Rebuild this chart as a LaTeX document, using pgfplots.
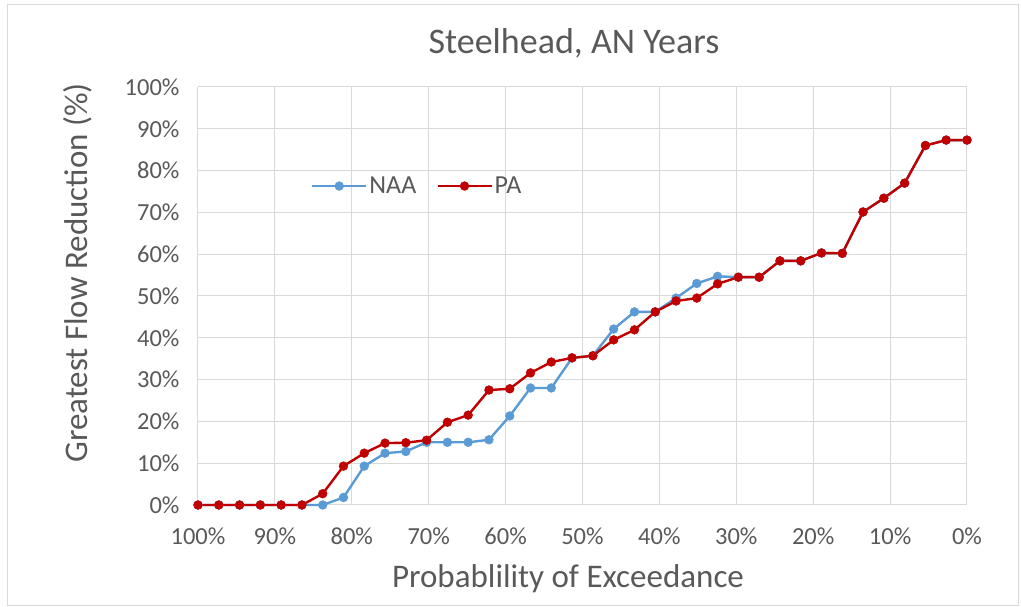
\documentclass[border=0pt]{standalone}
\usepackage{fontspec}
\setmainfont{Carlito}
\usepackage{pgfplots}
\pgfplotsset{compat=1.18}
\definecolor{naa}{HTML}{5B9BD5}
\definecolor{pa}{HTML}{C00000}
\definecolor{txt}{HTML}{595959}
\definecolor{grd}{HTML}{D9D9D9}
\begin{document}
\begin{tikzpicture}
\path[use as bounding box] (0,0) rectangle (1021pt,607pt);
\draw[grd, line width=1pt] (7pt,1pt) rectangle (1018pt,602pt);
\begin{axis}[
  at={(198pt,102pt)}, anchor=south west,
  scale only axis, width=769pt, height=418pt,
  xmin=0, xmax=100, ymin=0, ymax=100,
  x dir=reverse,
  xtick={0,10,...,100}, ytick={0,10,...,100},
  xticklabel={\pgfmathprintnumber{\tick}\%},
  yticklabel={\pgfmathprintnumber{\tick}\%},
  /pgf/number format/assume math mode=true,
  ticklabel style={font=\fontsize{24.5}{29}\selectfont, text=txt},
  xticklabel style={anchor=base, yshift=-40pt},
  yticklabel style={anchor=east, xshift=-15pt},
  major tick length=0pt,
  grid=major, major grid style={grd, line width=1pt},
  axis line style={draw=none},
  clip=false,
  legend style={at={(0.285,0.763)}, anchor=center, draw=none, fill=none,
    legend columns=2, font=\fontsize{26}{30}\selectfont, text=txt,
    /tikz/every even column/.append style={column sep=18pt}},
  legend image code/.code={\draw[mark repeat=2,mark phase=2,#1] plot coordinates {(0pt,0pt) (27pt,0pt) (54pt,0pt)};},
]
\addplot[naa, line width=2.4pt, mark=*, mark size=4.4pt, mark options={fill=naa, draw=naa, line width=0.5pt}] table {
x y
100 0
97.297 0
94.595 0
91.892 0
89.189 0
86.486 0
83.784 0
81.081 1.8
78.378 9.3
75.676 12.4
72.973 12.8
70.270 15.0
67.568 15.0
64.865 15.0
62.162 15.6
59.459 21.3
56.757 28.0
54.054 28.0
51.351 35.2
48.649 35.7
45.946 42.1
43.243 46.2
40.541 46.2
37.838 49.5
35.135 53.0
32.432 54.7
29.730 54.5
27.027 54.5
24.324 58.4
21.622 58.4
18.919 60.3
16.216 60.2
13.514 70.1
10.811 73.4
8.108 77.0
5.405 86.0
2.703 87.3
0 87.3
};
\addlegendentry{NAA}
\addplot[pa, line width=2.4pt, mark=*, mark size=4.4pt, mark options={fill=pa, draw=pa, line width=0.5pt}] table {
x y
100 0
97.297 0
94.595 0
91.892 0
89.189 0
86.486 0
83.784 2.7
81.081 9.3
78.378 12.4
75.676 14.8
72.973 14.9
70.270 15.5
67.568 19.8
64.865 21.5
62.162 27.5
59.459 27.8
56.757 31.6
54.054 34.2
51.351 35.2
48.649 35.7
45.946 39.5
43.243 41.9
40.541 46.2
37.838 48.8
35.135 49.5
32.432 52.9
29.730 54.5
27.027 54.5
24.324 58.4
21.622 58.4
18.919 60.3
16.216 60.2
13.514 70.1
10.811 73.4
8.108 77.0
5.405 86.0
2.703 87.3
0 87.3
};
\addlegendentry{PA}
\end{axis}
\node[font=\fontsize{36}{42}\selectfont, text=txt, anchor=base] at (574pt,553pt) {Steelhead, AN Years};
\node[font=\fontsize{33}{39}\selectfont, text=txt, anchor=base] at (568pt,19pt) {Probablility of Exceedance};
\node[font=\fontsize{33}{39}\selectfont, text=txt, anchor=base, rotate=90] at (87pt,334pt) {Greatest Flow Reduction (\%)};
\end{tikzpicture}
\end{document}
